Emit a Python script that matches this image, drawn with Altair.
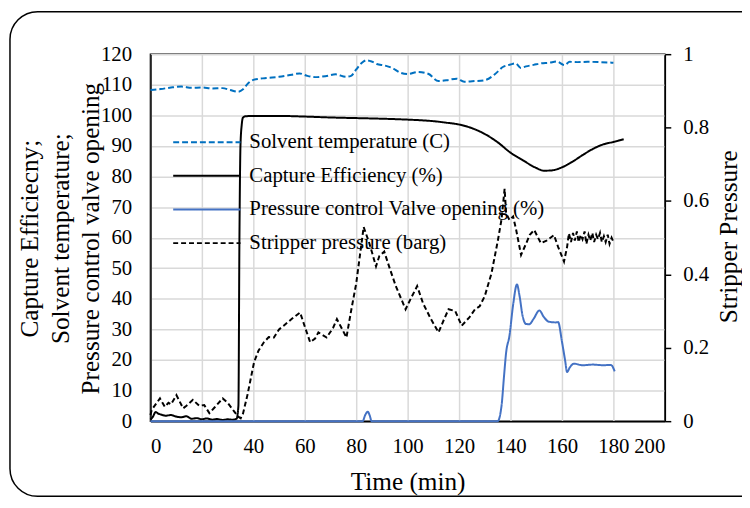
import altair as alt
import pandas as pd

series_names = ["Solvent temperature (C)", "Capture Efficiency (%)",
                "Pressure control Valve opening (%)", "Stripper pressure (barg)"]
series_colors = ["#0070C0", "#000000", "#4472C4", "#000000"]
series_dashes = [[6, 3], [1, 0], [1, 0], [5, 3]]

x_ticks = [0, 20, 40, 60, 80, 100, 120, 140, 160, 180, 200]
left_ticks = [0, 10, 20, 30, 40, 50, 60, 70, 80, 90, 100, 110, 120]
right_ticks = [0, 0.2, 0.4, 0.6, 0.8, 1]

temp_t = [0, 4, 8, 12, 16, 20, 24, 28, 31, 34, 36, 38, 40, 45, 50, 55, 58, 61, 64, 68,
          72, 76, 78, 80, 82, 84, 86, 88, 91, 94, 97, 100, 104, 108, 112, 116, 119, 122,
          126, 130, 134, 137, 140, 142, 144, 146, 149, 152, 155, 158, 161, 163, 166, 170, 175, 180]
temp_v = [108.3, 108.6, 109.1, 109.4, 109.0, 109.1, 108.8, 108.9, 108.3, 107.7, 108.5, 110.5,
          111.6, 112.2, 112.6, 113.3, 113.7, 112.9, 112.5, 112.8, 113.4, 112.6, 112.9, 115.0,
          117.0, 118.0, 117.6, 116.8, 116.3, 115.5, 114.0, 113.5, 114.2, 113.6, 111.2, 111.6,
          112.0, 111.0, 111.2, 111.5, 113.5, 115.8, 116.6, 117.0, 115.5, 116.0, 116.5, 117.0,
          117.2, 117.6, 116.4, 117.5, 117.4, 117.5, 117.4, 117.2]

ce_t = [0, 1, 2, 3, 4, 6, 8, 10, 12, 14, 16, 18, 20, 22, 24, 26, 28, 30, 32, 33.5, 34.2,
        34.6, 35, 35.5, 36, 37, 40, 50, 60, 70, 80, 90, 100, 105, 110, 115, 120, 125, 130,
        135, 140, 145, 150, 153, 156, 160, 164, 168, 172, 176, 180, 184]
ce_v = [0.5, 1.5, 3.0, 2.5, 2.2, 1.8, 2.0, 1.5, 1.3, 1.6, 0.8, 1.0, 0.6, 0.9, 0.5, 0.7, 0.4,
        0.6, 0.5, 0.8, 5, 60, 90, 97, 99.3, 99.7, 99.8, 99.8, 99.6, 99.3, 99.1, 98.9, 98.6,
        98.4, 98.1, 97.6, 97.0, 95.8, 93.9, 91.2, 87.8, 85.2, 82.8, 81.9, 82.0, 83.0, 84.8,
        87.0, 89.0, 90.5, 91.3, 92.2]

valve_t = [0, 82.5, 83.5, 84.5, 85.2, 86, 135, 136.5, 137.5, 138.3, 139.6, 141, 142.5,
           143.5, 144.7, 146, 147.3, 149, 151.2, 153, 155, 157.6, 158.5, 160, 161.2, 162,
           163, 164.6, 168, 172, 176, 179, 180.5]
valve_v = [0, 0, 2, 3.1, 2, 0, 0, 5, 15, 22.5, 28, 38, 44.7, 41, 34.4, 31.8, 31.7, 33.5,
           36.2, 34, 32.5, 32.3, 32.4, 26, 20, 16.1, 17.5, 18.8, 18.3, 18.5, 18.3, 18.4, 16.3]

press_t = [0, 0.5, 3.7, 5.6, 7, 8, 10.1, 12.7, 14, 16.5, 19, 20.9, 22.9, 25, 28.1, 30, 32.6,
           34, 35.1, 36, 37.7, 40.3, 42, 44.1, 46, 48, 50, 51.8, 55, 58.2, 60, 62.1, 64, 65.3,
           68.5, 71, 72.5, 74, 76.2, 78, 80, 82.9, 85.1, 87.7, 89, 90.9, 93, 95.4, 99.2, 101.5,
           103.7, 106, 109, 112, 114, 115.9, 118.5, 121, 124, 126.2, 128, 130, 132.6, 135.1,
           136.5, 137.7, 138.3, 139.6, 141, 142.2, 144.1, 146, 147.5, 149.2, 151.8, 154, 156.9,
           158.5, 160.8, 162, 162.7, 163.5, 164.3, 165, 165.8, 166.5, 167.3, 168, 168.8, 169.5,
           170.3, 171, 171.8, 172.5, 173.3, 174, 174.8, 175.5, 176.3, 177, 177.8, 178.5, 179.3, 180]
press_v = [0.017, 0.031, 0.062, 0.039, 0.050, 0.046, 0.071, 0.035, 0.042, 0.058, 0.042, 0.044,
           0.022, 0.038, 0.062, 0.050, 0.026, 0.013, 0.008, 0.021, 0.071, 0.161, 0.192, 0.215,
           0.229, 0.228, 0.250, 0.260, 0.279, 0.296, 0.258, 0.215, 0.225, 0.242, 0.228, 0.254,
           0.278, 0.258, 0.228, 0.300, 0.375, 0.529, 0.485, 0.422, 0.450, 0.462, 0.417, 0.368,
           0.305, 0.338, 0.368, 0.321, 0.279, 0.242, 0.275, 0.305, 0.300, 0.260, 0.283, 0.305,
           0.313, 0.341, 0.403, 0.493, 0.550, 0.633, 0.566, 0.548, 0.558, 0.521, 0.453, 0.483,
           0.508, 0.521, 0.485, 0.492, 0.507, 0.475, 0.435, 0.475, 0.512, 0.488, 0.513, 0.492,
           0.517, 0.488, 0.508, 0.496, 0.517, 0.483, 0.508, 0.492, 0.513, 0.488, 0.508, 0.496,
           0.513, 0.488, 0.504, 0.488, 0.508, 0.483, 0.500, 0.489]

FONT = "Liberation Serif"

left_df = pd.concat([
    pd.DataFrame({"t": temp_t, "v": temp_v, "series": series_names[0], "o": range(len(temp_t))}),
    pd.DataFrame({"t": ce_t, "v": ce_v, "series": series_names[1], "o": range(len(ce_t))}),
    pd.DataFrame({"t": valve_t, "v": valve_v, "series": series_names[2], "o": range(len(valve_t))}),
])
right_df = pd.DataFrame({"t": press_t, "p": press_v, "series": series_names[3]})

legend_spec = alt.Legend(
    title=None, orient="none", legendX=46, legendY=78, direction="vertical",
    symbolType="M-3.4,0H3.4", symbolSize=400, symbolStrokeWidth=2,
    labelFont=FONT, labelFontSize=21, labelColor="black", labelLimit=500,
    labelOffset=32, rowPadding=13, padding=0,
)
color_enc = alt.Color("series:N", scale=alt.Scale(domain=series_names, range=series_colors),
                      legend=legend_spec)
dash_enc = alt.StrokeDash("series:N", scale=alt.Scale(domain=series_names, range=series_dashes),
                          legend=legend_spec)

x_enc = alt.X("t:Q", scale=alt.Scale(domain=[0, 200], nice=False),
              axis=alt.Axis(values=x_ticks, title="Time (min)", ticks=False, labelPadding=15,
                            titleBaseline="alphabetic", titleY=69, titleX=260,
                            titleAlign="center", grid=True))

left = alt.Chart(left_df).mark_line(interpolate="monotone", strokeWidth=2).encode(
    x=x_enc,
    y=alt.Y("v:Q", scale=alt.Scale(domain=[0, 120], nice=False),
            axis=alt.Axis(values=left_ticks, ticks=False, grid=True, labelPadding=19,
                          title=["Capture Efficiecny;", "Solvent temperature;",
                                 "Pressure control valve opening"],
                          titleLineHeight=31, titleBaseline="middle", titleAlign="center",
                          titleAngle=270, titleX=-122, titleY=186)),
    color=color_enc,
    strokeDash=dash_enc,
    order="o:Q",
)

right = alt.Chart(right_df).mark_line(strokeWidth=2).encode(
    x=x_enc,
    y=alt.Y("p:Q", scale=alt.Scale(domain=[0, 1], nice=False),
            axis=alt.Axis(values=right_ticks, orient="right", format="~g", ticks=True,
                          tickSize=6, grid=False, labelPadding=12,
                          title="Stripper Pressure", titleAngle=270, titleBaseline="middle",
                          titleAlign="center", titleX=64, titleY=184)),
    color=color_enc,
    strokeDash=dash_enc,
)

border = alt.Chart(pd.DataFrame({"k": [0]})).mark_rect(
    fillOpacity=0, stroke="black", strokeWidth=1.5, cornerRadius=28
).encode(x=alt.value(-142), x2=alt.value(640), y=alt.value(-43), y2=alt.value(447))

chart = alt.layer(border, left, right).resolve_scale(y="independent").properties(
    width=520, height=371,
    autosize=alt.AutoSizeParams(type="none"),
    padding={"left": 144, "top": 44, "right": 78, "bottom": 77},
).configure_view(stroke="black", strokeWidth=1.5).configure_axis(
    labelFont=FONT, labelFontSize=21, labelColor="black",
    titleFont=FONT, titleFontSize=25.5, titleFontWeight="normal", titleColor="black",
    domainColor="black", domainWidth=1.5, tickColor="black", tickWidth=1.5,
    gridColor="#D9D9D9", gridWidth=1.5,
)

chart.save("out.html", embed_options={"renderer": "svg", "actions": False})
